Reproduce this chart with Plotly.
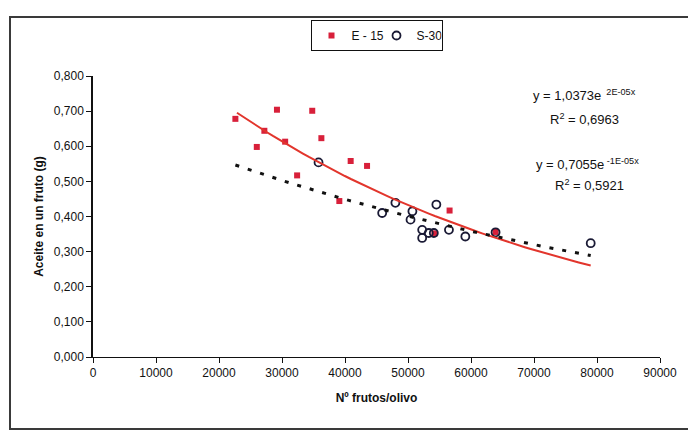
import plotly.graph_objects as go
import numpy as np

# ---- data ----
e15_x = [22600, 29200, 34800, 26000, 27200, 30500, 36250, 40900, 43500, 32400, 39100, 56600, 54200, 63900]
e15_y = [0.678, 0.704, 0.701, 0.598, 0.644, 0.613, 0.623, 0.558, 0.544, 0.517, 0.444, 0.417, 0.352, 0.356]

s30_x = [35800, 48000, 45900, 50700, 50400, 54500, 52250, 52250, 53300, 54100, 56500, 59100, 63900, 79000]
s30_y = [0.554, 0.439, 0.410, 0.415, 0.391, 0.434, 0.362, 0.339, 0.353, 0.353, 0.362, 0.343, 0.355, 0.324]

# exponential trendlines y = a * exp(b x), drawn over [x0, x1]
red_fit = {"a": 1.0373, "b": -1.75e-5, "x0": 22850, "x1": 79000}
blk_fit = {"a": 0.7055, "b": -1.13e-5, "x0": 22600, "x1": 79000}

x_ticks = [0, 10000, 20000, 30000, 40000, 50000, 60000, 70000, 80000, 90000]
y_ticks = [0.0, 0.1, 0.2, 0.3, 0.4, 0.5, 0.6, 0.7, 0.8]


def trend(f, n=60):
    xs = np.linspace(f["x0"], f["x1"], n)
    return xs, f["a"] * np.exp(f["b"] * xs)

FONT = "Liberation Sans, Arial, sans-serif"

fig = go.Figure()
fig.add_trace(go.Scatter(x=e15_x, y=e15_y, mode="markers", name="E - 15",
                         marker=dict(symbol="square", size=6, color="#d8203a")))
fig.add_trace(go.Scatter(x=s30_x, y=s30_y, mode="markers", name="S-30",
                         marker=dict(symbol="circle-open", size=8, color="#1a1a35",
                                     line=dict(width=1.8, color="#1a1a35"))))
rx, ry = trend(red_fit)
fig.add_trace(go.Scatter(x=rx, y=ry, mode="lines", showlegend=False,
                         line=dict(color="#e2352c", width=2)))
bx, by = trend(blk_fit)
fig.add_trace(go.Scatter(x=bx, y=by, mode="lines", showlegend=False,
                         line=dict(color="#111111", width=3, dash="4px,9px")))

ann_font = dict(family=FONT, size=13, color="#111111")
anns = [
    (78000, 0.746, "y = 1,0373e<sup>  2E-05x</sup>"),
    (78000, 0.678, "R<sup>2</sup> = 0,6963"),
    (78500, 0.549, "y = 0,7055e<sup> -1E-05x</sup>"),
    (78800, 0.490, "R<sup>2</sup> = 0,5921"),
]
for ax_, ay_, t in anns:
    fig.add_annotation(x=ax_, y=ay_, text=t, showarrow=False, xanchor="center",
                       yanchor="middle", font=ann_font)

# outer frame (scan border)
fig.add_shape(type="rect", xref="paper", yref="paper",
              x0=(10 - 93) / 567, x1=(700 - 93) / 567,
              y0=(357 - 429) / 281, y1=(357 - 17) / 281,
              line=dict(color="#3a3a3a", width=2), layer="below")

fig.update_layout(
    width=688, height=433,
    margin=dict(l=93, r=28, t=76, b=76),
    paper_bgcolor="white", plot_bgcolor="white",
    separators=",.",
    font=dict(family=FONT, size=12, color="#111111"),
    legend=dict(orientation="h", x=0.5, xanchor="center", y=(357 - 20) / 281, yanchor="top",
                bordercolor="#111111", borderwidth=1, bgcolor="white",
                font=dict(family=FONT, size=12, color="#111111"),
                itemwidth=30, tracegroupgap=0, entrywidth=20, entrywidthmode="pixels"),
    xaxis=dict(range=[0, 90000], tickvals=x_ticks, tickformat="d",
               showgrid=False, zeroline=False, showline=True, linecolor="#111111", linewidth=1,
               ticks="outside", ticklen=5, tickcolor="#111111",
               tickfont=dict(family=FONT, size=12),
               title=dict(text="<b>Nº frutos/olivo</b>", standoff=14,
                          font=dict(family=FONT, size=12))),
    yaxis=dict(range=[0, 0.8], tickvals=y_ticks, tickformat=".3f",
               showgrid=False, zeroline=False, showline=True, linecolor="#111111", linewidth=1.5,
               ticks="outside", ticklen=5, tickcolor="#111111",
               tickfont=dict(family=FONT, size=12),
               title=dict(text="<b>Aceite en un fruto (g)</b>", standoff=8,
                          font=dict(family=FONT, size=12))),
)

fig.write_html("out.html")
